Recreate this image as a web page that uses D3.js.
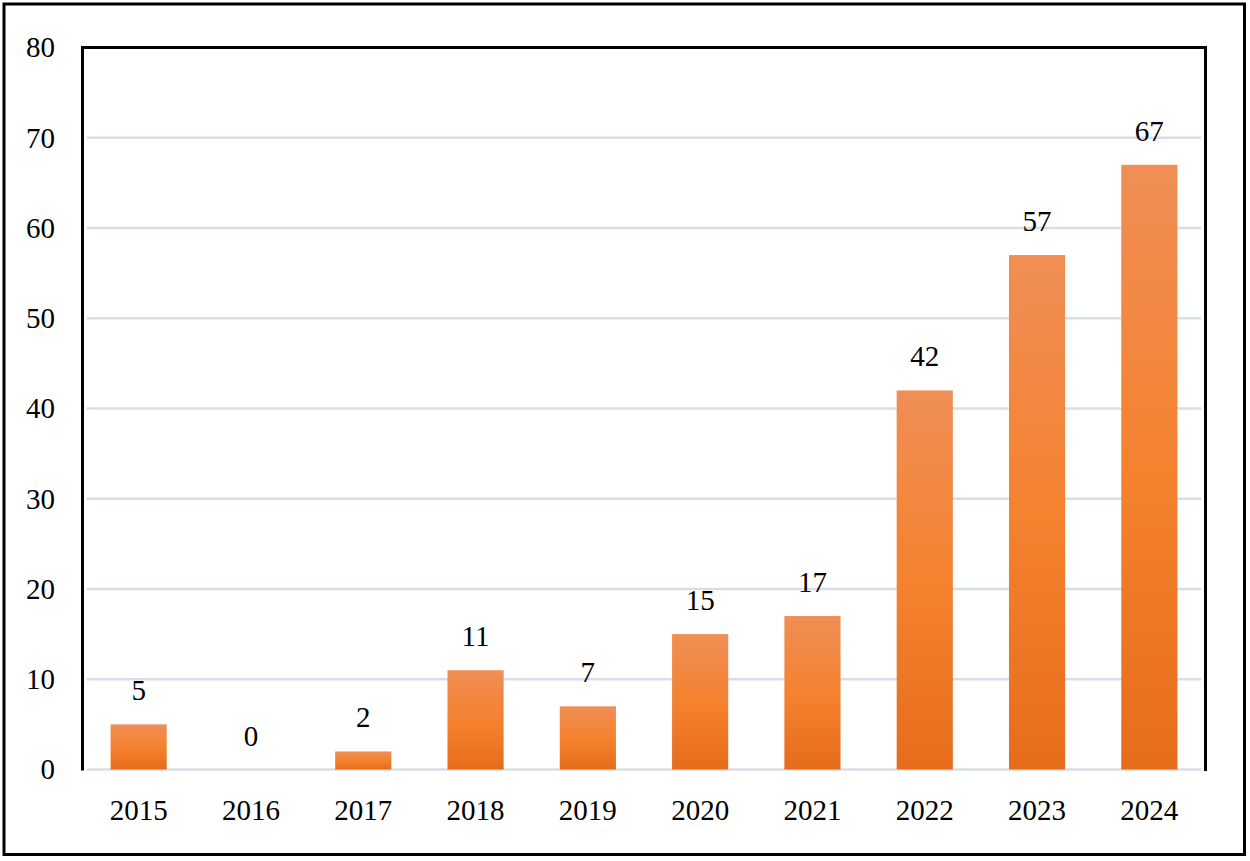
<!DOCTYPE html>
<html>
<head>
<meta charset="utf-8">
<script src="https://cdn.jsdelivr.net/npm/d3@7"></script>
<style>
  html, body { margin: 0; padding: 0; background: #fff; }
  svg { display: block; }
  svg text { font-family: "Liberation Serif", "DejaVu Serif", serif; font-size: 29px; fill: #000; }
</style>
</head>
<body>
<svg id="chart" width="1250" height="861"></svg>
<script>
const categories = ["2015","2016","2017","2018","2019","2020","2021","2022","2023","2024"];
const values = [5, 0, 2, 11, 7, 15, 17, 42, 57, 67];
const yTicks = [0, 10, 20, 30, 40, 50, 60, 70, 80];

(function () {
const svg = d3.select("#chart");
const pLeft = 82.5, pRight = 1205.5, pTop = 47.5, pBottom = 769.5;

const x = d3.scaleBand().domain(categories).range([pLeft, pRight]).paddingInner(0.5).paddingOuter(0.25);
const y = d3.scaleLinear().domain([0, 80]).range([pBottom, pTop]);

const defs = svg.append("defs");
const grad = defs.append("linearGradient").attr("id", "barGrad")
  .attr("x1", 0).attr("y1", 0).attr("x2", 0).attr("y2", 1);
grad.append("stop").attr("offset", "0%").attr("stop-color", "#f08e55");
grad.append("stop").attr("offset", "50%").attr("stop-color", "#f4822f");
grad.append("stop").attr("offset", "100%").attr("stop-color", "#e66c1b");

// outer border
svg.append("rect").attr("x", 4).attr("y", 4).attr("width", 1240.5).attr("height", 850.5)
  .attr("fill", "none").attr("stroke", "#000").attr("stroke-width", 3);

// gridlines
svg.append("g").selectAll("line").data(yTicks).join("line")
  .attr("x1", pLeft + 4).attr("x2", pRight - 4)
  .attr("y1", d => y(d)).attr("y2", d => y(d))
  .attr("stroke", "#d8dee7").attr("stroke-width", 2.5);

// bars
svg.append("g").selectAll("rect").data(values).join("rect")
  .attr("x", (d, i) => x(categories[i]))
  .attr("width", x.bandwidth())
  .attr("y", d => y(d))
  .attr("height", d => y(0) - y(d))
  .attr("fill", "url(#barGrad)");

// value labels
svg.append("g").selectAll("text").data(values).join("text")
  .attr("x", (d, i) => x(categories[i]) + x.bandwidth() / 2)
  .attr("y", d => y(d) - 24)
  .attr("text-anchor", "middle")
  .text(d => d);

// frame: left, top, right in black
svg.append("path")
  .attr("d", `M${pLeft},${pBottom + 1}V${pTop}H${pRight}V${pBottom + 1.5}`)
  .attr("fill", "none").attr("stroke", "#000").attr("stroke-width", 3);

// y axis labels
const yAxis = d3.axisLeft(y).tickValues(yTicks).tickSize(0).tickPadding(27.5);
const gy = svg.append("g").attr("transform", `translate(${pLeft},0)`).call(yAxis)
  .attr("font-family", null).attr("font-size", null);
gy.select(".domain").remove();

// x axis labels
const xAxis = d3.axisBottom(x).tickSize(0).tickPadding(30);
const gx = svg.append("g").attr("transform", `translate(0,${pBottom})`).call(xAxis)
  .attr("font-family", null).attr("font-size", null);
gx.select(".domain").remove();
})();
</script>
</body>
</html>
